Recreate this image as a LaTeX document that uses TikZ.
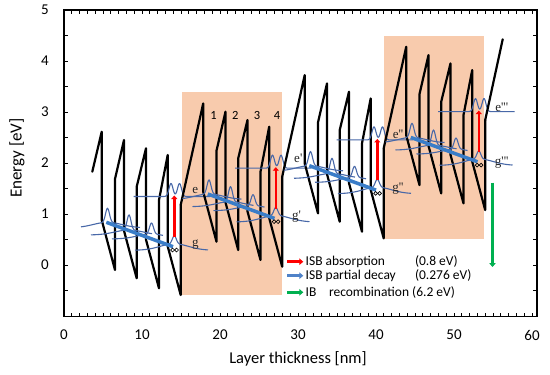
\documentclass[tikz,border=0pt]{standalone}
\usepackage{fontspec}
\setmainfont{Carlito}
\newfontfamily\serf{Liberation Serif}
\usetikzlibrary{arrows.meta}
\definecolor{peach}{RGB}{248,203,173}
\definecolor{wfblue}{RGB}{72,104,168}
\definecolor{thickblue}{RGB}{58,125,200}
\definecolor{legblue}{RGB}{80,130,200}
\definecolor{arrred}{RGB}{255,0,0}
\definecolor{arrgreen}{RGB}{0,176,80}
\newcommand\wfg[6]{\draw[wf] plot[domain=#5:#6,samples=110,smooth] (\x,{#2+#4*(1-exp(-(\x-#1)*(\x-#1)/400))-#3*exp(-min((\x-#1)*(\x-#1)/7.84,9))});}
\begin{document}
\begin{tikzpicture}[x=1pt,y=-1pt,
  band/.style={line width=2.2pt,line join=round,line cap=round},
  wf/.style={wfblue,line width=1.1pt},
  tick/.style={line width=0.8pt},
  ticklbl/.style={font=\fontsize{15}{17}\selectfont,inner sep=0pt},
  leg/.style={font=\fontsize{13.5}{16}\selectfont,anchor=west,inner sep=0pt},
  lvl/.style={font=\serf\fontsize{13}{15}\selectfont,inner sep=0pt,text=black!85},
  num/.style={font=\fontsize{12.5}{14}\selectfont,inner sep=0pt},
  redarr/.style={arrred,line width=2.6pt,-{Triangle[length=3.5pt,width=6pt]}},
  legarr/.style={line width=2.5pt,-{Triangle[length=4pt,width=6.5pt]}}]
\useasboundingbox (0,0) rectangle (550,375);
\fill[white] (0,0) rectangle (550,375);
% shaded regions
\fill[peach] (181.7,91.7) rectangle (282.3,295);
\fill[peach] (384,36) rectangle (484,239);
% band profile, wavefunctions, transitions
\foreach \k in {0,1,2,3}{
  \pgfmathsetmacro\sx{ifthenelse(\k==0,92.3,79.2)}
  \pgfmathsetmacro\sy{ifthenelse(\k==0,171.7,233.3)}
  \begin{scope}[shift={(\k*101.5,-\k*28.3)}]
    \draw[band] (\sx,\sy) -- (101.7,131.7) -- (101.7,220) -- (115,270) -- (115,179) -- (124,140) -- (124,230.7) -- (136.7,278.3) -- (136.7,186.7) -- (146,148.3) -- (146,239.7) -- (159,288.3) -- (159,200) -- (167.7,155) -- (167.7,246.3) -- (180.7,295) -- (180.7,205);
    \wfg{107.5}{222.3}{14}{5.5}{81}{140}
    \wfg{129}{230}{15}{5}{91}{152}
    \wfg{151.5}{234}{11}{5}{112}{163}
    \wfg{174.3}{243.8}{8}{6.5}{135}{208}
    \draw[wf] plot[domain=133.5:210,samples=150,smooth] (\x,{196.5-13*exp(-min((\x-171)*(\x-171)/7.84,9))-13*exp(-min((\x-179.5)*(\x-179.5)/7.84,9))});
    \draw[thickblue,line width=3.5pt] (106.3,222.3) -- (173,246.7);
    \draw[redarr] (174.3,237) -- (174.3,195.5);
    \draw[line width=0.7pt] (172.6,250) circle (1.9) (176.6,250) circle (1.9);
  \end{scope}
}
\draw[band] (485.2,120.1) -- (502.7,39.3);
% level labels
\node[lvl] (e0) at (195.3,190) {e};
\node[lvl] (g0) at (195.3,244.3) {g};
\node[lvl] (e1) at (298.3,158.3) {e'};
\node[lvl] (g1) at (296.5,216.7) {g'};
\node[lvl] (e2) at (398,134) {e''};
\node[lvl] (g2) at (398,188.5) {g''};
\node[lvl] (e3) at (501.7,107.3) {e'''};
\node[lvl] (g3) at (501.7,162.5) {g'''};
% well numbers
\node[num] (n1) at (213.5,115) {1};
\node[num] (n2) at (235.3,115) {2};
\node[num] (n3) at (257,115) {3};
\node[num] (n4) at (277,115) {4};
% IB recombination arrow
\coordinate (gt) at (492.5,182.7);
\coordinate (gb) at (492.5,267);
\draw[legarr,arrgreen] (gt) -- (gb);
% frame and ticks
\draw[line width=1.3pt] (64,10) rectangle (537,316.7);
\foreach \i in {1,...,60}{
  \draw[tick] ({64+7.8*\i},316.7) -- ++(0,-3.5);
  \draw[tick] ({64+7.8*\i},10) -- ++(0,3.5);
}
\foreach \v in {-0.5,0,0.5,1,1.5,2,2.5,3,3.5,4,4.5}{
  \draw[tick] (64,{265-51*\v}) -- ++(4,0);
  \draw[tick] (537,{265-51*\v}) -- ++(-4,0);
}
\foreach \n in {0,10,20,30,40,50,60}{
  \node[ticklbl] (xl\n) at ({64+7.8*\n},335) {\n};
}
\foreach \v in {0,1,2,3,4,5}{
  \node[ticklbl] (yl\v) at (45,{265-51*\v}) {\v};
}
\node[font=\fontsize{17}{19}\selectfont,rotate=90] (ylab) at (17,158) {Energy [eV]};
\node[font=\fontsize{16.5}{18}\selectfont] (xlab) at (298,359) {Layer thickness [nm]};
% legend
\coordinate (la1) at (287.3,261.7); \coordinate (lb1) at (303.3,261.7);
\coordinate (la2) at (287.3,275.7); \coordinate (lb2) at (303.3,275.7);
\coordinate (la3) at (287.3,292.3); \coordinate (lb3) at (303.3,292.3);
\draw[legarr,arrred] (la1) -- (lb1);
\draw[legarr,legblue] (la2) -- (lb2);
\draw[legarr,arrgreen] (la3) -- (lb3);
\node[leg] (t1) at (305.5,261.7) {ISB absorption};
\node[leg] (v1) at (414.8,261.7) {(0.8 eV)};
\node[leg] (t2) at (305.5,275.7) {ISB partial decay};
\node[leg] (v2) at (414.8,275.7) {(0.276 eV)};
\node[leg] (t3) at (305.5,292.3) {IB};
\node[leg] (t3b) at (328.8,292.3) {recombination};
\node[leg] (v3) at (412,292.3) {(6.2 eV)};
\end{tikzpicture}
\end{document}
